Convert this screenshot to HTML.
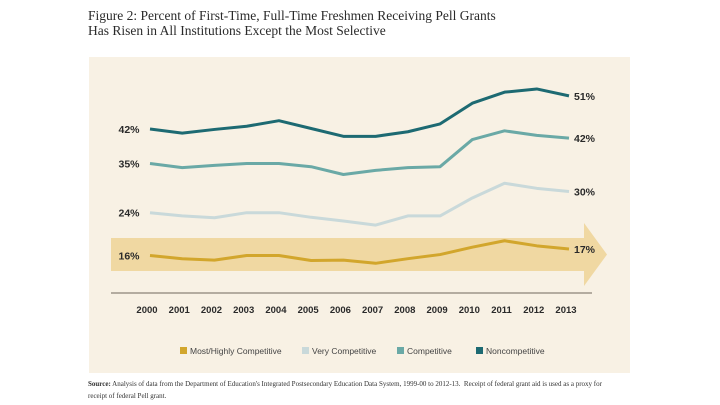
<!DOCTYPE html>
<html><head><meta charset="utf-8">
<style>
body{margin:0;width:720px;height:405px;background:#fff;overflow:hidden;position:relative;font-family:"Liberation Sans",sans-serif}
.title{position:absolute;left:88px;top:8px;font-family:"Liberation Serif",serif;font-size:13.5px;line-height:15px;color:#2a2a2a}
.src{position:absolute;left:88px;top:378px;font-family:"Liberation Serif",serif;font-size:7px;line-height:12px;color:#333;width:525px}
svg{position:absolute;left:0;top:0}
.lab{font-family:"Liberation Sans Narrow","Liberation Sans",sans-serif;font-weight:bold;fill:#2a2a2a}
</style></head><body>
<div class="title">Figure 2: Percent of First-Time, Full-Time Freshmen Receiving Pell Grants<br>Has Risen in All Institutions Except the Most Selective</div>
<svg width="720" height="405">
<rect x="89" y="57" width="541" height="316" fill="#f8f1e4"/>
<rect x="111" y="238" width="474" height="33" fill="#f0d8a2"/>
<polygon points="584,223 607,254.5 584,286" fill="#f0d8a2"/>
<line x1="111" y1="293" x2="592" y2="293" stroke="#8a8478" stroke-width="1.2"/>
<g id="g"></g>
</svg>
<div class="src"><b>Source:</b> Analysis of data from the Department of Education's Integrated Postsecondary Education Data System, 1999-00 to 2012-13.&nbsp; Receipt of federal grant aid is used as a proxy for receipt of federal Pell grant.</div>
<script>
const years=["2000","2001","2002","2003","2004","2005","2006","2007","2008","2009","2010","2011","2012","2013"];
const nonCompetitive=[43.7,42.8,43.6,44.3,45.5,43.8,42.1,42.1,43.1,44.8,49.3,51.7,52.4,50.9];
const competitive=[36.2,35.3,35.8,36.2,36.2,35.5,33.8,34.7,35.3,35.5,41.4,43.3,42.3,41.7];
const veryCompetitive=[25.5,24.8,24.4,25.5,25.5,24.5,23.7,22.8,24.8,24.8,28.7,31.9,30.8,30.1];
const mostCompetitive=[16.2,15.5,15.2,16.2,16.2,15.1,15.2,14.5,15.5,16.4,18.0,19.4,18.3,17.6];
const startLabels=["42%","35%","24%","16%"];
const endLabels=["51%","42%","30%","17%"];
const seriesNames=["Noncompetitive","Competitive","Very Competitive","Most/Highly Competitive"];
const colors=["#1d6a72","#6aa9a6","#c9d9da","#d2a62c"];
const series=[nonCompetitive,competitive,veryCompetitive,mostCompetitive];
const NS="http://www.w3.org/2000/svg";
const g=document.getElementById('g');
const xs=i=>150+i*(569-150)/(years.length-1);
const ys=v=>330-4.6*v;
function mk(t,a){const e=document.createElementNS(NS,t);for(const k in a)e.setAttribute(k,a[k]);g.appendChild(e);return e;}
years.forEach((y,i)=>{const t=mk('text',{x:xs(i)-3,y:313,'text-anchor':'middle','font-size':'9.5',class:'lab'});t.textContent=y;

});
series.forEach((s,k)=>{
const p=mk('polyline',{points:s.map((v,i)=>xs(i)+','+ys(v)).join(' '),fill:'none',stroke:colors[k],'stroke-width':'3','stroke-linejoin':'round'});


const a=mk('text',{x:129,y:ys(s[0])+4,'text-anchor':'middle','font-size':'10.5',class:'lab'});a.textContent=startLabels[k];


const b=mk('text',{x:574,y:ys(s[s.length-1])+4,'font-size':'10.5',class:'lab'});b.textContent=endLabels[k];


});
const legX=[180,302,397,476];
[3,2,1,0].forEach((k,j)=>{
const r=mk('rect',{x:legX[j],y:347,width:7,height:7,fill:colors[k]});


const t=mk('text',{x:legX[j]+10,y:354,'font-size':'8.5',fill:'#444','font-family':'"Liberation Sans Narrow","Liberation Sans",sans-serif'});t.textContent=seriesNames[k];


});
</script>
</body></html>
